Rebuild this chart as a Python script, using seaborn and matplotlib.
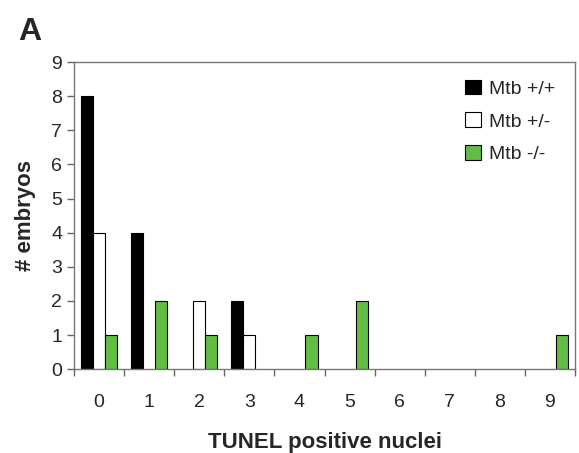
import numpy as np
import pandas as pd
import matplotlib
matplotlib.use("Agg")
import matplotlib.pyplot as plt
import seaborn as sns
from matplotlib.ticker import FixedLocator

# data
nuclei = ["0", "1", "2", "3", "4", "5", "6", "7", "8", "9"]
wt = [8, 4, 0, 2, 0, 0, 0, 0, 0, 0]      # Mtb +/+
het = [4, 0, 2, 1, 0, 0, 0, 0, 0, 0]     # Mtb +/-
ko = [1, 2, 1, 0, 1, 2, 0, 0, 0, 1]      # Mtb -/-
groups = ["Mtb +/+", "Mtb +/-", "Mtb -/-"]
colors = ["#000000", "#ffffff", "#62bd45"]

df = pd.DataFrame({
    "nuclei": nuclei * 3,
    "genotype": [groups[0]] * 10 + [groups[1]] * 10 + [groups[2]] * 10,
    "embryos": wt + het + ko,
})
df = df[df["embryos"] > 0]

sns.set_style("white")
plt.rcParams["font.family"] = ["Liberation Sans", "DejaVu Sans"]

fig = plt.figure(figsize=(5.79, 4.53), dpi=100)
ax = fig.add_axes([0.128, 0.185, 0.865, 0.678])

sns.barplot(data=df, x="nuclei", y="embryos", hue="genotype",
            order=nuclei, hue_order=groups, palette=colors,
            width=0.72, gap=0, edgecolor="black", linewidth=0.8,
            saturation=1, ax=ax)

ax.set_xlim(-0.5, 9.5)
ax.set_ylim(0, 9)
ax.set_yticks(range(10))
ax.xaxis.set_minor_locator(FixedLocator(np.arange(-0.5, 10, 1)))
ax.tick_params(axis="x", which="major", length=0, labelsize=14, pad=18)
ax.tick_params(axis="x", which="minor", length=5, width=1, color="#666666", direction="out", bottom=True)
ax.tick_params(axis="y", length=5, width=1, color="#666666", direction="out", left=True, labelsize=14)

for side in ["left", "bottom", "top", "right"]:
    ax.spines[side].set_color("#777777")
    ax.spines[side].set_linewidth(1)

ax.set_xlabel("TUNEL positive nuclei", fontsize=16, fontweight="bold", labelpad=15)
ax.set_ylabel("# embryos", fontsize=16, fontweight="bold", labelpad=11)

leg = ax.legend(loc="upper right", frameon=False, fontsize=14, handlelength=0.8,
                handleheight=0.8, handletextpad=0.4, labelspacing=0.75,
                bbox_to_anchor=(0.995, 1.0))

fig.text(0.031, 0.912, "A", fontsize=23, fontweight="bold")

fig.savefig("out.png", dpi=100)
